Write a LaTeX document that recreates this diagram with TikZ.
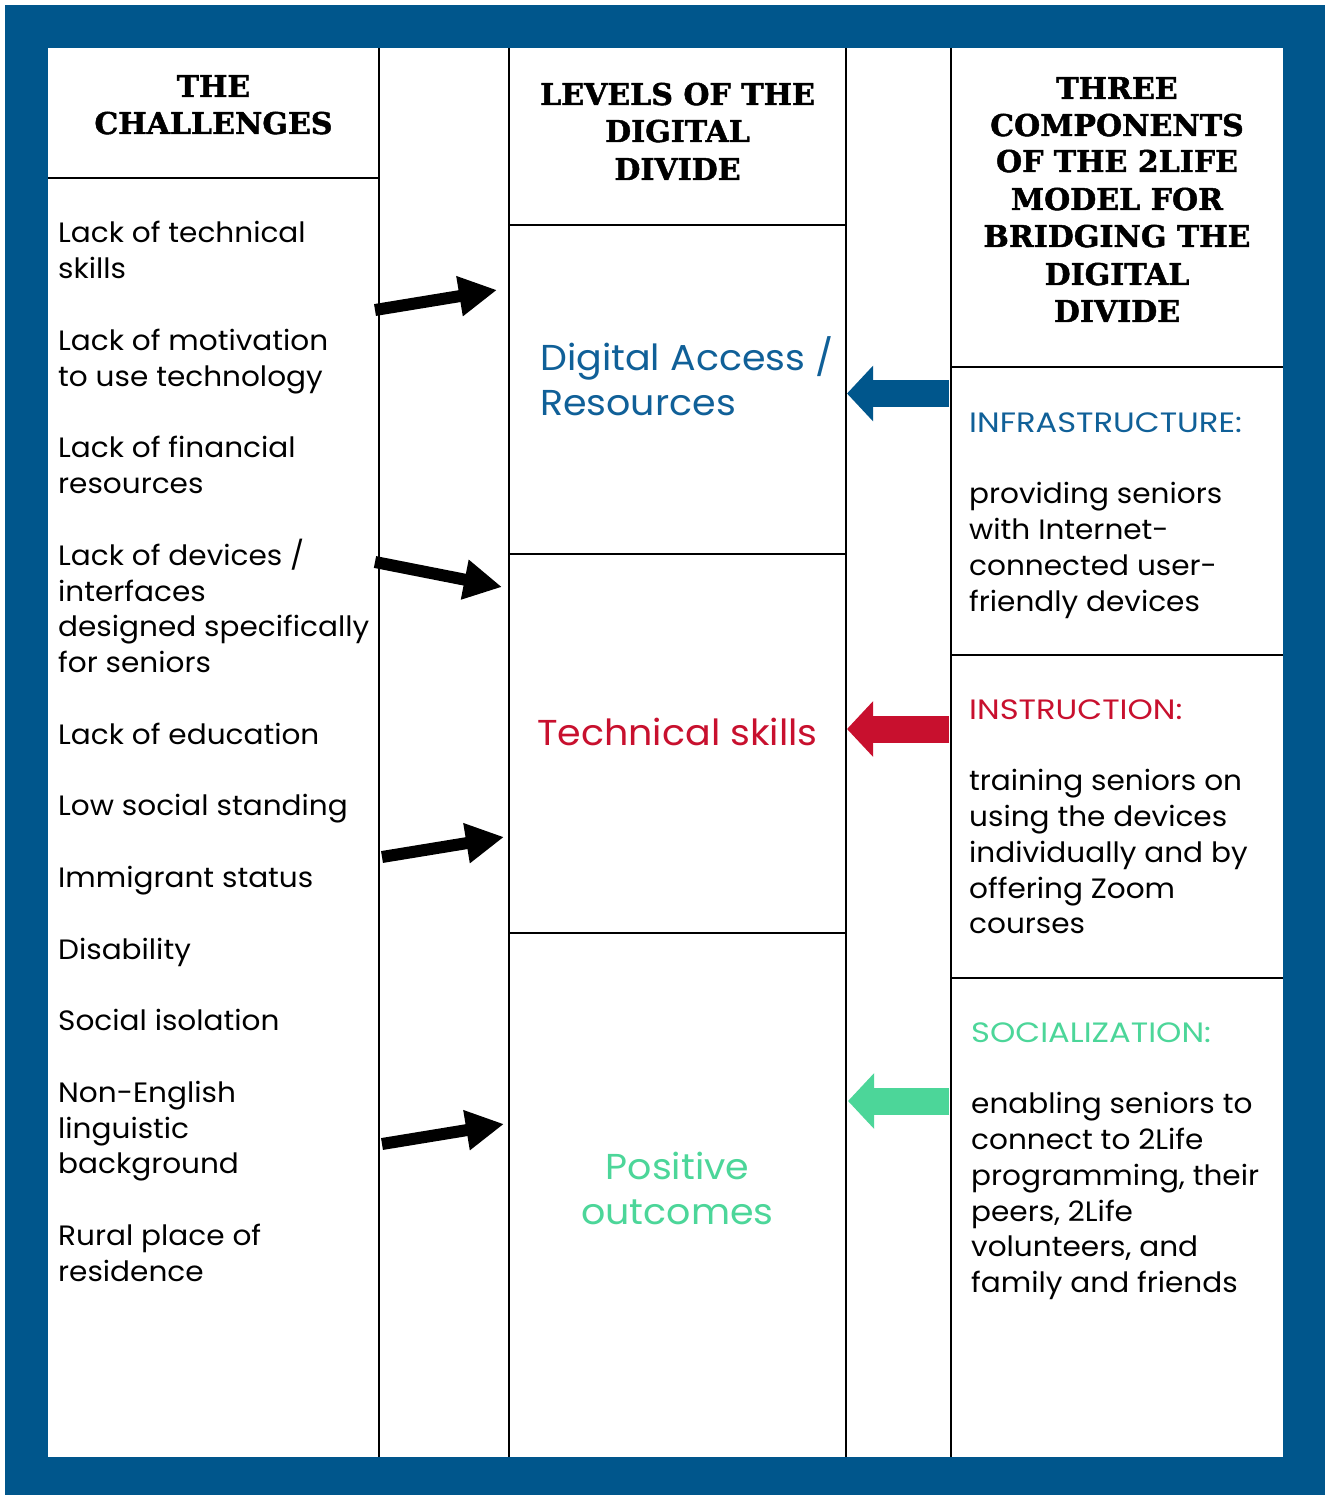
\documentclass[tikz,border=0pt]{standalone}
\usepackage{fontspec}
\setmainfont{Poppins}[FakeStretch=1.055]
\newfontfamily\capsfont{Poppins}[FakeStretch=1.15]
\newfontfamily\headfont{DejaVu Serif}[BoldFeatures={FakeBold=1.5}]
\usetikzlibrary{arrows.meta}
\definecolor{frameblue}{RGB}{0,86,140}
\definecolor{accessblue}{RGB}{16,96,152}
\definecolor{skillred}{RGB}{200,16,46}
\definecolor{outgreen}{RGB}{76,214,153}
\begin{document}
\begin{tikzpicture}[x=1pt,y=-1pt,
  rule/.style={line width=2.5pt,black},
  head/.style={inner sep=0pt,anchor=base,font=\headfont\bfseries\fontsize{30}{37}\selectfont},
  body/.style={inner sep=0pt,anchor=base west,font=\fontsize{28}{35.8}\selectfont},
  label/.style={body,font=\capsfont\fontsize{28}{35.8}\selectfont},
  level/.style={inner sep=0pt,font=\fontsize{36}{45}\selectfont},
  pusharrow/.style={line width=12pt,black,-{Triangle[length=38pt,width=38pt]}},
  feedarrow/.style={line width=27pt,-{Triangle[length=26pt,width=54pt]}}]

% outer frame and white sheet
\useasboundingbox (0,0) rectangle (1325,1495);
\fill[frameblue] (5,5) rectangle (1325,1495);
\fill[white] (48,48) rectangle (1283,1457);

% column rules
\draw[rule] (379,48) -- (379,1457);
\draw[rule] (509,48) -- (509,1457);
\draw[rule] (846,48) -- (846,1457);
\draw[rule] (951,48) -- (951,1457);

% row rules
\draw[rule] (48,178) -- (379,178);
\draw[rule] (509,225) -- (846,225);
\draw[rule] (509,554) -- (846,554);
\draw[rule] (509,933) -- (846,933);
\draw[rule] (951,367) -- (1283,367);
\draw[rule] (951,655) -- (1283,655);
\draw[rule] (951,978) -- (1283,978);

% column headings
\foreach \t/\y [count=\i] in {THE/97,CHALLENGES/134}
  \node[head] (hc\i) at (213.5,\y) {\t};
\foreach \t/\y [count=\i] in {LEVELS OF THE/105,DIGITAL/142,DIVIDE/180}
  \node[head] (hl\i) at (677.5,\y) {\t};
\foreach \t/\y [count=\i] in {THREE/99,COMPONENTS/136,OF THE 2LIFE/172,MODEL FOR/210,BRIDGING THE/247,DIGITAL/285,DIVIDE/322}
  \node[head] (hm\i) at (1117,\y) {\t};

% challenges
\foreach \t/\y [count=\i] in {
  {Lack of technical}/243, {skills}/278.8,
  {Lack of motivation}/350.4, {to use technology}/386.2,
  {Lack of financial}/457.8, {resources}/493.6,
  {Lack of devices /}/565.2, {interfaces}/601, {designed specifically}/636.8, {for seniors}/672.6,
  {Lack of education}/744.2,
  {Low social standing}/815.8,
  {Immigrant status}/887.4,
  {Disability}/959,
  {Social isolation}/1030.6,
  {Non-English}/1102.2, {linguistic}/1138, {background}/1173.8,
  {Rural place of}/1245.4, {residence}/1281.2}
  \node[body] (ch\i) at (58,\y) {\t};

% levels of the digital divide
\node[level,anchor=base west,text=accessblue] (lv1a) at (540,370) {Digital Access /};
\node[level,anchor=base west,text=accessblue] (lv1b) at (540,415) {Resources};
\node[level,anchor=base,text=skillred] (lv2) at (677.5,745) {Technical skills};
\node[level,anchor=base,text=outgreen] (lv3a) at (677.5,1179) {Positive};
\node[level,anchor=base,text=outgreen] (lv3b) at (677.5,1224) {outcomes};

% components
\node[label,text=accessblue] (infra) at (969,432) {INFRASTRUCTURE:};
\foreach \t/\y [count=\i] in {{providing seniors}/503.6,{with Internet-}/539.4,{connected user-}/575.2,{friendly devices}/611}
  \node[body] (inf\i) at (969,\y) {\t};
\node[label,text=skillred] (instr) at (969,719) {INSTRUCTION:};
\foreach \t/\y [count=\i] in {{training seniors on}/790.6,{using the devices}/826.4,{individually and by}/862.2,{offering Zoom}/898,{courses}/933.8}
  \node[body] (ins\i) at (969,\y) {\t};
\node[label,text=outgreen] (social) at (971,1042) {SOCIALIZATION:};
\foreach \t/\y [count=\i] in {{enabling seniors to}/1113.6,{connect to 2Life}/1149.4,{programming, their}/1185.2,{peers, 2Life}/1221,{volunteers, and}/1256.8,{family and friends}/1292.6}
  \node[body] (soc\i) at (971,\y) {\t};

% arrow end points
\coordinate (p1s) at (375,310);  \coordinate (p1e) at (497,290);
\coordinate (p2s) at (375,562);  \coordinate (p2e) at (502,587);
\coordinate (p3s) at (382,857);  \coordinate (p3e) at (504,837);
\coordinate (p4s) at (382,1144); \coordinate (p4e) at (504,1124);
\coordinate (f1s) at (949,393.5); \coordinate (f1e) at (847,393.5);
\coordinate (f2s) at (949,729);   \coordinate (f2e) at (847,729);
\coordinate (f3s) at (949,1101);  \coordinate (f3e) at (848,1101);

% challenges feeding the levels
\draw[pusharrow] (p1s) -- (p1e);
\draw[pusharrow] (p2s) -- (p2e);
\draw[pusharrow] (p3s) -- (p3e);
\draw[pusharrow] (p4s) -- (p4e);

% components answering the levels
\draw[feedarrow,frameblue] (f1s) -- (f1e);
\draw[feedarrow,skillred] (f2s) -- (f2e);
\draw[feedarrow,outgreen] (f3s) -- (f3e);
\end{tikzpicture}
\end{document}
